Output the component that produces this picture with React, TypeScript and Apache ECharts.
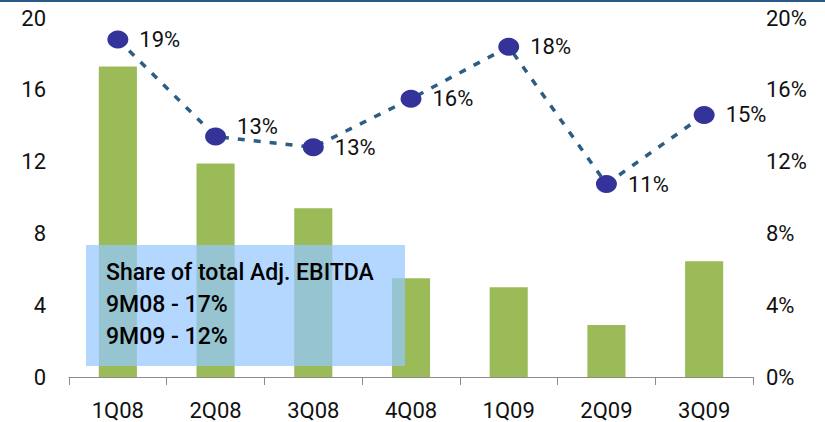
import React, { useEffect, useRef } from "react";
import * as echarts from "echarts";

const categories = ["1Q08", "2Q08", "3Q08", "4Q08", "1Q09", "2Q09", "3Q09"];
const ebitda = [17.3, 11.9, 9.4, 5.5, 5.0, 2.9, 6.45];
const share = [18.8, 13.4, 12.8, 15.5, 18.4, 10.75, 14.6];
const shareLabels = ["19%", "13%", "13%", "16%", "18%", "11%", "15%"];
const boxLines = ["Share of total Adj. EBITDA", "9M08 - 17%", "9M09 - 12%"];

export default function App() {
  const ref = useRef<HTMLDivElement>(null);
  useEffect(() => {
    document.body.style.margin = "0";
    const chart = echarts.init(ref.current!, null, { renderer: "svg" });
    const font = "Roboto, sans-serif";
    chart.setOption({
      animation: false,
      grid: { left: 69, right: 72, top: 18, bottom: 45 },
      xAxis: {
        type: "category",
        data: categories,
        axisLine: { lineStyle: { color: "#8c8c8c", width: 1 } },
        axisTick: { show: true, length: 8, lineStyle: { color: "#8c8c8c" } },
        axisLabel: { color: "#111", fontSize: 22, fontFamily: font, margin: 22 },
      },
      yAxis: [
        {
          type: "value",
          min: 0,
          max: 20,
          interval: 4,
          splitLine: { show: false },
          axisLine: { show: false },
          axisTick: { show: false },
          axisLabel: { color: "#111", fontSize: 22, fontFamily: font, margin: 23 },
        },
        {
          type: "value",
          min: 0,
          max: 20,
          interval: 4,
          position: "right",
          splitLine: { show: false },
          axisLine: { show: false },
          axisTick: { show: false },
          axisLabel: {
            color: "#111",
            fontSize: 22,
            fontFamily: font,
            margin: 13,
            formatter: (v: number) => v + "%",
          },
        },
      ],
      series: [
        {
          type: "bar",
          data: ebitda,
          barWidth: "39%",
          itemStyle: { color: "#9bbb59" },
          z: 1,
        },
        {
          type: "line",
          yAxisIndex: 1,
          data: share.map((v, i) =>
            i === 1 ? { value: v, label: { offset: [0, -10] } } : v
          ),
          symbol: "circle",
          symbolSize: [21, 18],
          itemStyle: { color: "#333399" },
          lineStyle: { color: "#2c5d85", width: 3.5, type: [7, 9] },
          label: {
            show: true,
            position: "right",
            distance: 11,
            color: "#111",
            fontSize: 22,
            fontFamily: font,
            formatter: (p: any) => shareLabels[p.dataIndex],
          },
          z: 3,
        },
      ],
      graphic: [
        {
          type: "rect",
          shape: { x: 0, y: 0, width: 825, height: 2 },
          style: { fill: "#2a5a8a" },
        },
        {
          type: "rect",
          z: 10,
          shape: { x: 86, y: 245, width: 319, height: 121 },
          style: { fill: "rgba(150,200,255,0.72)" },
        },
        ...boxLines.map((t, i) => ({
          type: "text",
          z: 11,
          x: 106,
          y: 272 + i * 32,
          style: {
            text: t,
            fill: "#000",
            font: "500 23px " + font,
            textVerticalAlign: "middle",
          },
        })),
      ],
    });
    return () => chart.dispose();
  }, []);
  return <div ref={ref} style={{ width: 825, height: 422 }} />;
}
